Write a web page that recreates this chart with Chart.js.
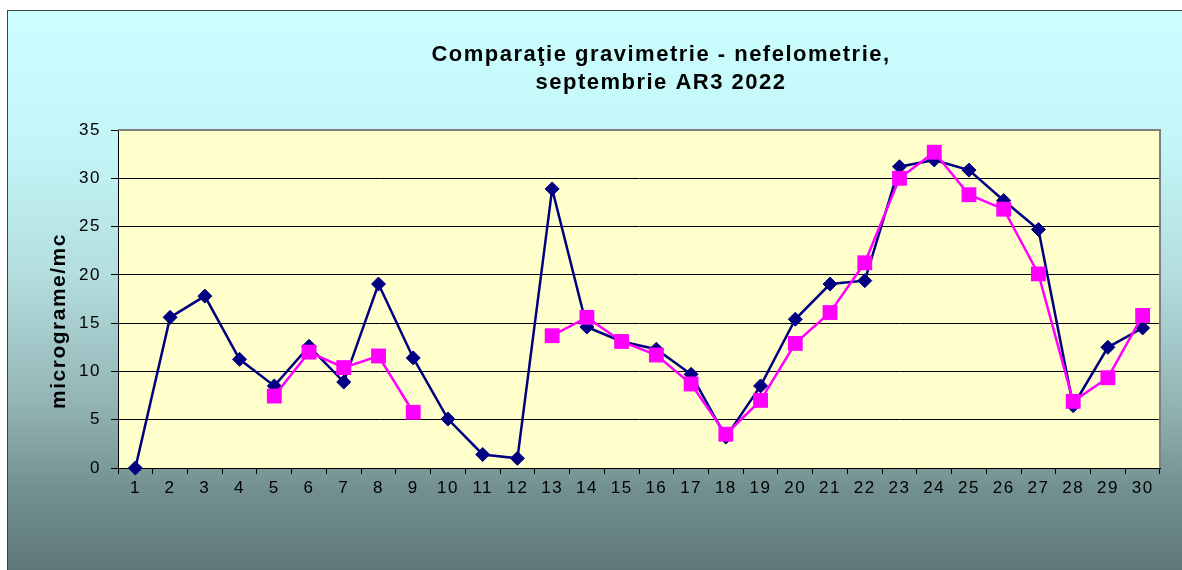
<!DOCTYPE html>
<html>
<head>
<meta charset="utf-8">
<script src="https://cdn.jsdelivr.net/npm/chart.js@4/dist/chart.umd.min.js"></script>
<style>
  html, body { margin: 0; padding: 0; background: #fff; }
  #frame {
    position: absolute;
    left: 7px;
    top: 10px;
    width: 1175px;
    height: 560px;
    border-left: 1px solid #404040;
    border-top: 1px solid #404040;
    background: linear-gradient(to bottom, #ccffff 0%, #c3f5f6 25%, #b3dcdd 48%, #93b4b4 70%, #728f8f 86%, #5e7777 100%);
  }
  #wrap { position: absolute; left: 0; top: 0; width: 1174px; height: 559px; }
</style>
</head>
<body>
<div id="frame">
  <div id="wrap"><canvas id="chart"></canvas></div>
</div>
<script>
// zilele lunii septembrie
const days = ["1","2","3","4","5","6","7","8","9","10","11","12","13","14","15",
  "16","17","18","19","20","21","22","23","24","25","26","27","28","29","30"];

// gravimetrie (albastru), micrograme/mc
const gravimetrie = [0, 15.6, 17.8, 11.25, 8.5, 12.6, 8.9, 19.05, 11.4, 5.07,
  1.4, 1.0, 28.9, 14.6, 13.1, 12.3, 9.7, 3.2, 8.5, 15.4,
  19.05, 19.4, 31.2, 31.9, 30.85, 27.7, 24.7, 6.45, 12.5, 14.5];

// nefelometrie (magenta), lipsesc zilele 1-4 si 10-12
const nefelometrie = [null, null, null, null, 7.45, 12.0, 10.4, 11.6, 5.77, null,
  null, null, 13.7, 15.6, 13.1, 11.7, 8.7, 3.5, 7.0, 12.9,
  16.1, 21.25, 30.0, 32.7, 28.3, 26.8, 20.1, 6.9, 9.35, 15.8];

const yTicks = [0, 5, 10, 15, 20, 25, 30, 35];

const FONT = "'Liberation Sans', Arial, sans-serif";

// fundal galben pentru zona graficului + spatiere litere (textul e mai lat in original)
const plotArea = {
  id: "plotArea",
  afterLayout(chart) {
    // titlul din original e centrat mai la dreapta
    const t = chart.titleBlock;
    t.left += 77;
    t.right += 77;
  },
  beforeDraw(chart) {
    const { ctx, chartArea: a } = chart;
    ctx.save();
    ctx.fillStyle = "#ffffcc";
    ctx.fillRect(a.left, a.top, a.right - a.left, a.bottom - a.top);
    ctx.restore();
    ctx.letterSpacing = "1.5px";
  },
  beforeDatasetsDraw(chart) {
    const { ctx, chartArea: a } = chart;
    ctx.save();
    ctx.strokeStyle = "#808080";
    ctx.lineWidth = 2;
    ctx.beginPath();
    ctx.moveTo(a.left, a.top);
    ctx.lineTo(a.right, a.top);
    ctx.lineTo(a.right, a.bottom);
    ctx.stroke();
    ctx.restore();
  },
  afterDraw(chart) {
    chart.ctx.letterSpacing = "0px";
  }
};

const ctx = document.getElementById("chart").getContext("2d");
const chart = new Chart(ctx, {
  type: "line",
  data: {
    labels: days,
    datasets: [
      {
        label: "nefelometrie",
        data: nefelometrie,
        order: 0,
        borderColor: "#ff00ff",
        backgroundColor: "#ff00ff",
        borderWidth: 2.5,
        pointStyle: "rect",
        pointRadius: 10.5,
        pointHoverRadius: 10.5,
        pointBorderWidth: 0,
        spanGaps: false,
        clip: false,
        tension: 0
      },
      {
        label: "gravimetrie",
        data: gravimetrie,
        order: 1,
        borderColor: "#000080",
        backgroundColor: "#000080",
        borderWidth: 2.5,
        pointStyle: "rectRot",
        pointRadius: 7,
        pointHoverRadius: 7,
        pointBorderWidth: 1,
        clip: false,
        tension: 0
      }
    ]
  },
  options: {
    responsive: true,
    maintainAspectRatio: false,
    animation: false,
    layout: { padding: { left: 0, right: 22, top: 0, bottom: 0 } },
    plugins: {
      legend: { display: false },
      tooltip: { enabled: false },
      title: {
        display: true,
        text: ["Comparaţie gravimetrie - nefelometrie,", "septembrie AR3 2022"],
        color: "#000",
        font: { family: FONT, size: 22, weight: "bold", lineHeight: 1.273 },
        padding: { top: 30, bottom: 33 }
      }
    },
    scales: {
      x: {
        offset: true,
        border: { color: "#000", width: 1 },
        grid: {
          offset: true,
          drawOnChartArea: false,
          drawTicks: true,
          tickLength: 6,
          color: "#000"
        },
        ticks: {
          color: "#000",
          font: { family: FONT, size: 17 },
          padding: 4,
          maxRotation: 0,
          autoSkip: false
        },
        afterFit(scale) { scale.height = 102; }
      },
      y: {
        min: 0,
        max: 35,
        border: { color: "#000", width: 1 },
        grid: {
          color: "#000",
          lineWidth: 1,
          drawTicks: true,
          tickLength: 7
        },
        afterBuildTicks(scale) {
          scale.ticks = yTicks.map(v => ({ value: v }));
        },
        ticks: {
          color: "#000",
          font: { family: FONT, size: 17 },
          padding: 10
        },
        title: {
          display: true,
          text: "micrograme/mc      ",
          color: "#000",
          font: { family: FONT, size: 21, weight: "bold" },
          padding: { top: 39, bottom: 0 }
        },
        afterFit(scale) { scale.width = 110; }
      }
    }
  },
  plugins: [plotArea]
});
</script>
</body>
</html>
